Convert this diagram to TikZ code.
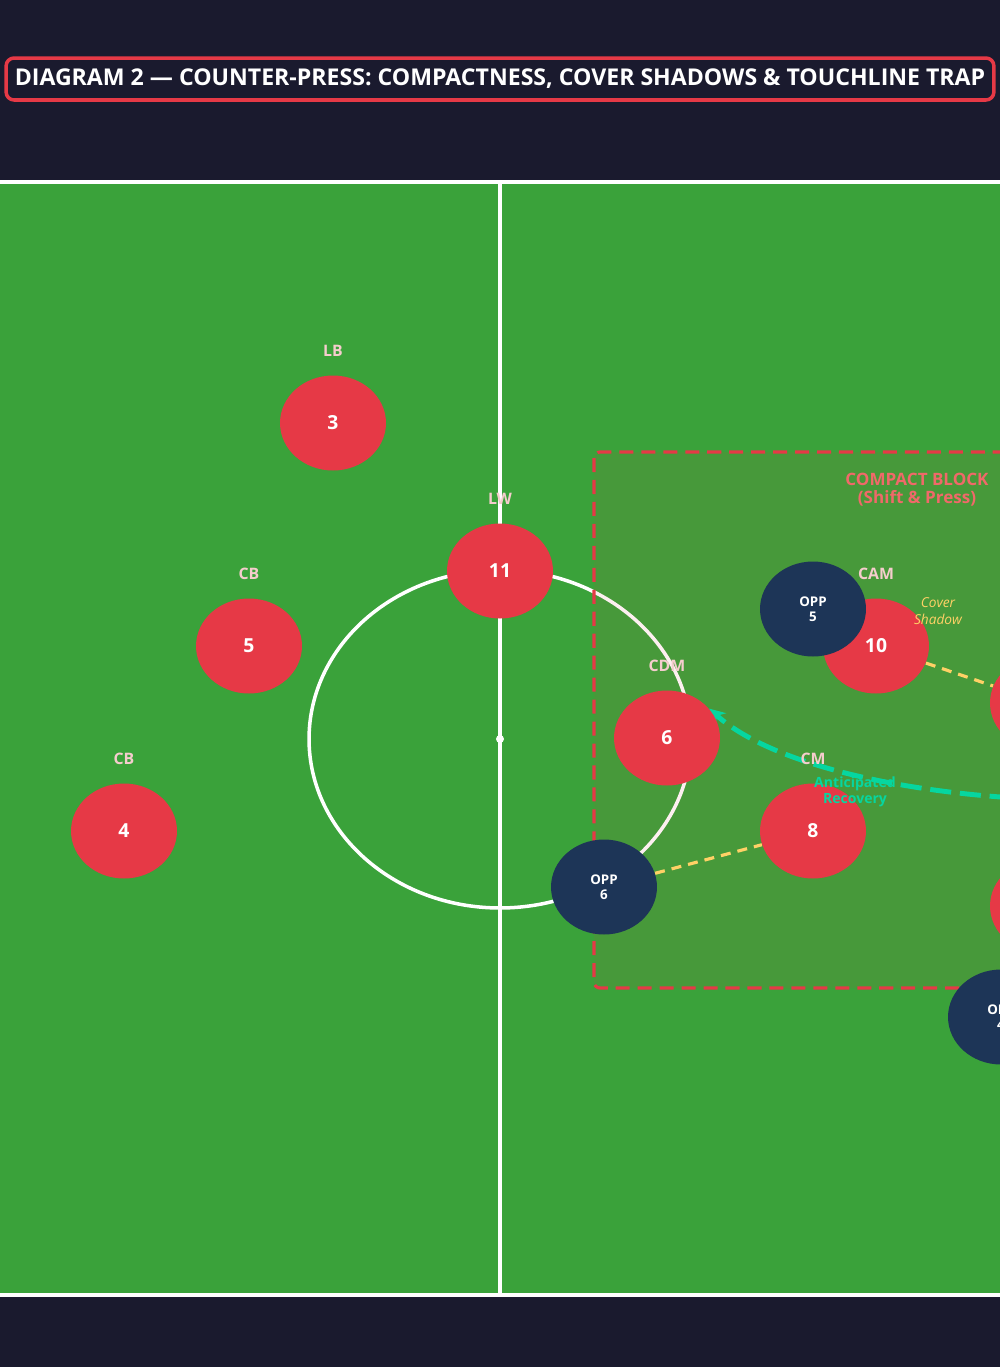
\documentclass[tikz,border=0pt]{standalone}
\usepackage{fontspec}
\setmainfont{Open Sans}
\usetikzlibrary{shapes.geometric,arrows.meta,positioning,backgrounds}
\definecolor{nightbg}{RGB}{26,26,46}
\definecolor{pitchgreen}{RGB}{58,162,58}
\definecolor{teamred}{RGB}{230,57,70}
\definecolor{oppnavy}{RGB}{29,53,87}
\definecolor{shadowgold}{RGB}{255,209,102}
\definecolor{recteal}{RGB}{6,214,160}
\definecolor{poslabel}{RGB}{245,205,205}
\definecolor{blocktext}{RGB}{240,105,105}

\begin{document}
\begin{tikzpicture}[x=0.02cm, y=-0.02cm,
  titlebox/.style={rectangle, rounded corners=0.16cm,
    draw=teamred, line width=2pt, fill=nightbg, text=white,
    minimum width=19.76cm, minimum height=0.84cm,
    font=\fontsize{13.15}{16}\selectfont\bfseries},
  player/.style={ellipse, fill=teamred, text=white,
    minimum width=2.12cm, minimum height=1.9cm, inner sep=0pt,
    font=\fontsize{11}{13}\selectfont\bfseries},
  opp/.style={player, fill=oppnavy, align=center,
    font=\fontsize{7.6}{8.5}\selectfont\bfseries},
  poslbl/.style={text=poslabel, inner sep=0pt,
    font=\fontsize{9}{10}\selectfont\bfseries},
  pitchline/.style={draw=white, line width=2pt},
  covline/.style={draw=shadowgold, line width=1.8pt,
    dash pattern=on 5.7pt off 4pt},
  recarr/.style={draw=recteal, line width=2.8pt,
    dash pattern=on 12pt off 5pt, -{Stealth[length=9pt,width=9pt]}},
  node distance=0.36cm
]
\useasboundingbox (0,0) rectangle (1000,1367);
\clip (0,0) rectangle (1000,1367);

\begin{scope}[on background layer]
  \fill[nightbg] (0,0) rectangle (1000,1367);
  % pitch
  \fill[pitchgreen] (-20,182) rectangle (1020,1295);
  \draw[pitchline] (-20,182) -- (1020,182);
  \draw[pitchline] (-20,1295) -- (1020,1295);
  \draw[pitchline] (500,182) -- (500,1295);
  \draw[pitchline] (500,739) ellipse [x radius=3.82cm, y radius=3.38cm];
  \fill[white] (500,739) circle [radius=0.08cm];
  % compact block
  \fill[teamred, fill opacity=0.08, rounded corners=0.12cm]
    (594,452) rectangle (1040,988);
  \draw[teamred, line width=1.8pt, dash pattern=on 8pt off 4.5pt,
    rounded corners=0.12cm] (594,452) rectangle (1040,988);
\end{scope}

\node[titlebox] (title) at (500,79)
  {DIAGRAM 2 — COUNTER-PRESS: COMPACTNESS, COVER SHADOWS \& TOUCHLINE TRAP};

\node[text=blocktext, align=center, font=\fontsize{9.7}{10.2}\selectfont\bfseries]
  (blocklbl) at (917,490) {COMPACT BLOCK\\(Shift \& Press)};

% our team
\node[player] (p3)  at (333,423) {3};
\node[player] (p11) at (500,571) {11};
\node[player] (p5)  at (249,646) {5};
\node[player] (p4)  at (124,831) {4};
\node[player] (p6)  at (667,738) {6};
\node[player] (p10) at (876,646) {10};
\node[player] (p8)  at (813,831) {8};
\node[player] (pr1) at (1043,703) {};
\node[player] (pr2) at (1043,906) {};

\node[poslbl, above=of p3]  (l3)  {LB};
\node[poslbl, above=of p11] (l11) {LW};
\node[poslbl, above=of p5]  (l5)  {CB};
\node[poslbl, above=of p4]  (l4)  {CB};
\node[poslbl, above=of p6]  (l6)  {CDM};
\node[poslbl, above=of p10] (l10) {CAM};
\node[poslbl, above=of p8]  (l8)  {CM};

% opponents
\node[opp] (o5) at (813,609)  {OPP\\5};
\node[opp] (o6) at (604,887)  {OPP\\6};
\node[opp] (o4) at (1001,1017) {OPP\\4};

\node[text=shadowgold, align=center, font=\fontsize{7.8}{9.4}\selectfont\itshape]
  (covlbl) at (938,611) {Cover\\Shadow};

\begin{scope}[on background layer]
  \draw[covline] (o6) -- (p8);
  \draw[covline] (p10) -- (pr1);
  \coordinate (recfrom) at (1130,800);
  \draw[recarr] (recfrom) .. controls (950,805) and (780,772) .. (p6.35);
\end{scope}

\node[text=recteal, align=center, font=\fontsize{8}{9}\selectfont\bfseries]
  (reclbl) at (855,792) {Anticipated\\Recovery};
\end{tikzpicture}
\end{document}
